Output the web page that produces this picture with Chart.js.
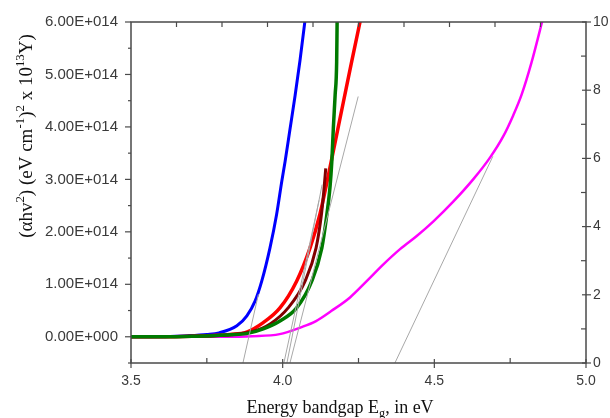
<!DOCTYPE html>
<html>
<head>
<meta charset="utf-8">
<script src="https://cdn.jsdelivr.net/npm/chart.js@4"></script>
<style>
html,body{margin:0;padding:0;background:#fff;}
canvas{display:block;}
</style>
</head>
<body>
<canvas id="c" width="610" height="418"></canvas>
<script>
// ---- data (energy in eV, (αhv²)² in units of 1e14) ----
const energyBlue   = [3.5,3.6,3.685,3.75,3.79,3.849,3.882,3.909,3.931,3.958,3.98,3.997,4.008,4.024,4.041,4.057,4.073,4.08];
const alphaBlue    = [0,0,0.02,0.045,0.075,0.21,0.4,0.68,1.06,1.69,2.33,2.96,3.34,3.95,4.6,5.26,6.0,6.35];

const energyRed    = [3.5,3.6,3.7,3.77,3.826,3.881,3.936,3.991,4.046,4.09,4.123,4.145,4.178,4.2,4.228,4.255,4.27];
const alphaRed     = [0,0,0.01,0.025,0.045,0.09,0.27,0.55,1.06,1.69,2.34,2.92,3.85,4.47,5.26,6.0,6.4];

const energyMaroon = [3.5,3.7,3.83,3.9,3.96,4.018,4.074,4.11,4.128,4.136,4.142];
const alphaMaroon  = [0,0.01,0.04,0.1,0.25,0.55,1.06,1.69,2.34,2.8,3.21];

const energyGreen  = [3.5,3.6,3.7,3.77,3.826,3.881,3.936,3.991,4.046,4.096,4.129,4.145,4.156,4.162,4.167,4.173,4.178,4.1795,4.1805];
const alphaGreen   = [0,0,0.01,0.02,0.04,0.06,0.15,0.3,0.55,1.06,1.69,2.3,2.85,3.34,3.97,4.61,5.24,6.0,6.4];

const energyMagenta= [3.5,3.8,3.9,3.99,4.06,4.11,4.16,4.222,4.277,4.332,4.387,4.442,4.497,4.563,4.628,4.684,4.727,4.76,4.788,4.82,4.855,4.87];
const alphaMagenta = [0,0,0.01,0.05,0.18,0.30,0.49,0.75,1.06,1.38,1.67,1.92,2.20,2.58,3.0,3.42,3.82,4.22,4.62,5.22,6.0,6.35];

// tangent (extrapolation) lines
const tanBlueX = [3.869,3.920], tanBlueY = [-0.5,0.81];
const tanAX    = [4.024,4.249], tanAY    = [-0.5,4.58];
const tanBX    = [4.004,4.12],  tanBY    = [-0.5,2.6];
const tanCX    = [4.014,4.13],  tanCY    = [-0.5,2.9];
const tanMagX  = [4.370,4.693], tanMagY  = [-0.5,3.44];

// ticks
const xTickValues = [3.5,4.0,4.5,5.0];
const xTickLabels = ['3.5','4.0','4.5','5.0'];
const yTickValues = [0,1,2,3,4,5,6];
const yTickLabels = ['0.00E+000','1.00E+014','2.00E+014','3.00E+014','4.00E+014','5.00E+014','6.00E+014'];
const y2TickValues = [0,2,4,6,8,10];
const y2TickLabels = ['0','2','4','6','8','10'];

const pts = (xs, ys) => xs.map((x,i)=>({x:x, y:ys[i]}));

function curve(xs, ys, color, w, order){
  return {data:pts(xs,ys), borderColor:color, borderWidth:w, pointRadius:0,
          cubicInterpolationMode:'monotone', fill:false, order:order};
}
function tangent(xs, ys){
  return {data:pts(xs,ys), borderColor:'#a8a8a8', borderWidth:1, pointRadius:0, fill:false, order:0};
}

function drawRich(ctx, parts, cx, cy, size, family){
  const sub = size*0.68;
  let total = 0;
  const widths = parts.map(([t,m])=>{
    ctx.font = (m===0? size: sub) + 'px ' + family;
    const w = ctx.measureText(t).width; total += w; return w;
  });
  let x = cx - total/2;
  const base = cy + size*0.35;
  ctx.textBaseline = 'alphabetic';
  ctx.textAlign = 'left';
  parts.forEach(([t,m],i)=>{
    ctx.font = (m===0? size: sub) + 'px ' + family;
    let y = base;
    if (m===1) y = base - size*0.4;
    if (m===-1) y = base + size*0.22;
    ctx.fillText(t, x, y);
    x += widths[i];
  });
}

const framePlugin = {
  id:'frame',
  afterDraw(chart){
    const ctx = chart.ctx;
    const {left,right,top,bottom} = chart.chartArea;
    const x = chart.scales.x, y = chart.scales.y, y2 = chart.scales.y2;
    ctx.save();
    ctx.strokeStyle = '#4a4a4a';
    ctx.lineWidth = 1.5;
    ctx.strokeRect(left, top, right-left, bottom-top);
    ctx.lineWidth = 1.2;
    const seg = (x1,y1,x2,y2_)=>{ctx.beginPath();ctx.moveTo(x1,y1);ctx.lineTo(x2,y2_);ctx.stroke();};
    for (let k=-1;k<=12;k++){
      const v = k*0.5, py = y.getPixelForValue(v);
      const major = k%2===0;
      seg(left-(major?6:3), py, left, py);
    }
    for (let k=0;k<=10;k++){
      const py = y2.getPixelForValue(k);
      if (k%2===0) seg(right-4, py, right+5, py); else seg(right-5, py, right, py);
    }
    for (let k=0;k<=6;k++){
      const v = 3.5 + k*0.25, px = x.getPixelForValue(v);
      if (k%2===0) seg(px, bottom-4, px, bottom+5); else seg(px, bottom-5, px, bottom);
    }
    for (let k=1;k<10;k++){
      const px = left + (right-left)*k/10;
      seg(px, top, px, top+5);
    }
    ctx.fillStyle = '#111';
    const serif = '"Liberation Serif", "Times New Roman", serif';
    drawRich(ctx, [['Energy bandgap E',0],['g',-1],[', in eV',0]], 340, 407, 18, serif);
    ctx.translate(25, 136);
    ctx.rotate(-Math.PI/2);
    drawRich(ctx, [['(\u03B1hv',0],['2',1],[') (eV cm',0],['-1',1],[')',0],['2',1],[' x 10',0],['13',1],['Y)',0]], 0, 0, 19, serif);
    ctx.restore();
  }
};

const tickFont = {family:'"Liberation Sans", Arial, sans-serif', size:14};
const leftTickFont = {family:'"Liberation Sans", Arial, sans-serif', size:15};

new Chart(document.getElementById('c'), {
  type:'line',
  data:{datasets:[
    curve(energyMagenta, alphaMagenta, '#ff00ff', 2.5, 5),
    curve(energyBlue, alphaBlue, '#0000ff', 3, 4),
    curve(energyRed, alphaRed, '#ff0000', 3.5, 3),
    curve(energyMaroon, alphaMaroon, '#800000', 3, 2),
    curve(energyGreen, alphaGreen, '#007a00', 3.5, 1),
    tangent(tanBlueX, tanBlueY),
    tangent(tanAX, tanAY),
    tangent(tanBX, tanBY),
    tangent(tanCX, tanCY),
    tangent(tanMagX, tanMagY)
  ]},
  options:{
    responsive:false, animation:false, devicePixelRatio:1,
    layout:{padding:{top:20,left:0,right:0,bottom:0}},
    plugins:{legend:{display:false}, tooltip:{enabled:false}},
    scales:{
      x:{type:'linear', position:'bottom', min:3.5, max:5.0,
         grid:{display:false, drawTicks:false}, border:{display:false},
         afterBuildTicks:s=>{s.ticks = xTickValues.map(v=>({value:v}));},
         ticks:{padding:10, color:'#3a3a3a', font:tickFont, maxRotation:0,
                callback:(v,i)=>xTickLabels[i]},
         afterFit:s=>{s.height = 55;}},
      y:{type:'linear', position:'left', min:-0.5, max:6,
         grid:{display:false, drawTicks:false}, border:{display:false},
         afterBuildTicks:s=>{s.ticks = yTickValues.map(v=>({value:v}));},
         ticks:{padding:13, color:'#3a3a3a', font:leftTickFont, callback:(v,i)=>yTickLabels[i]},
         afterFit:s=>{s.width = 131;}},
      y2:{type:'linear', position:'right', min:0, max:10,
         grid:{display:false, drawTicks:false}, border:{display:false},
         afterBuildTicks:s=>{s.ticks = y2TickValues.map(v=>({value:v}));},
         ticks:{padding:7, color:'#3a3a3a', font:tickFont, callback:(v,i)=>y2TickLabels[i]},
         afterFit:s=>{s.width = 24;}}
    }
  },
  plugins:[framePlugin]
});
</script>
</body>
</html>
